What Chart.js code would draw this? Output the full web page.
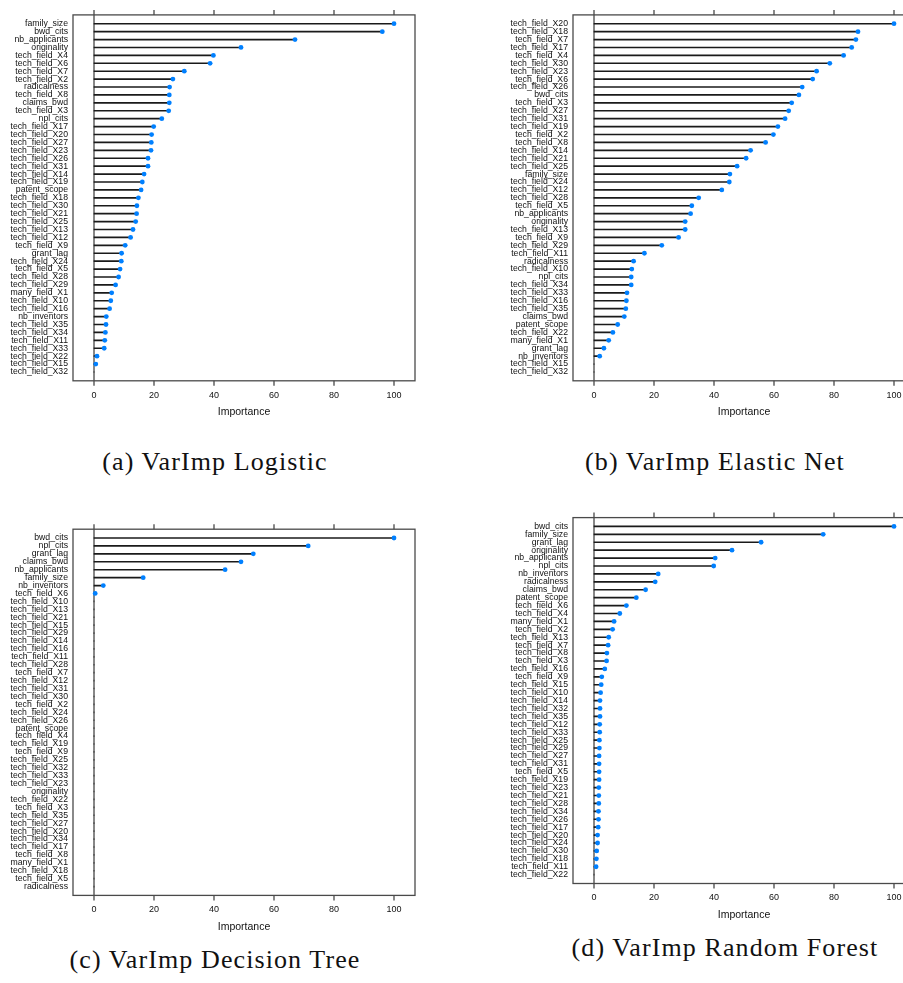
<!DOCTYPE html>
<html>
<head>
<meta charset="utf-8">
<script src="https://cdn.jsdelivr.net/npm/chart.js@4.4.1/dist/chart.umd.min.js"></script>
<style>
  html, body { margin: 0; padding: 0; background: #fff; width: 903px; height: 983px; overflow: hidden; }
  canvas.panel { position: absolute; }
  .cap { position: absolute; font-family: "Liberation Serif", serif; font-size: 26px; color: #111;
         white-space: nowrap; transform: translate(-50%, -50%); letter-spacing: 1.1px; }
</style>
</head>
<body>
<canvas id="panelA" class="panel"></canvas>
<canvas id="panelB" class="panel"></canvas>
<canvas id="panelC" class="panel"></canvas>
<canvas id="panelD" class="panel"></canvas>
<div class="cap" style="left:215px; top:462px;">(a) VarImp Logistic</div>
<div class="cap" style="left:715px; top:462px;">(b) VarImp Elastic Net</div>
<div class="cap" style="left:215px; top:960px;">(c) VarImp Decision Tree</div>
<div class="cap" style="left:725px; top:948px;">(d) VarImp Random Forest</div>
<script>
// Scaled variable importance (0-100) per model, sorted from most to least important.
const logisticVars = [
  'family_size', 'bwd_cits', 'nb_applicants', 'originality', 'tech_field_X4', 'tech_field_X6',
  'tech_field_X7', 'tech_field_X2', 'radicalness', 'tech_field_X8', 'claims_bwd', 'tech_field_X3',
  'npl_cits', 'tech_field_X17', 'tech_field_X20', 'tech_field_X27', 'tech_field_X23', 'tech_field_X26',
  'tech_field_X31', 'tech_field_X14', 'tech_field_X19', 'patent_scope', 'tech_field_X18', 'tech_field_X30',
  'tech_field_X21', 'tech_field_X25', 'tech_field_X13', 'tech_field_X12', 'tech_field_X9', 'grant_lag',
  'tech_field_X24', 'tech_field_X5', 'tech_field_X28', 'tech_field_X29', 'many_field_X1', 'tech_field_X10',
  'tech_field_X16', 'nb_inventors', 'tech_field_X35', 'tech_field_X34', 'tech_field_X11', 'tech_field_X33',
  'tech_field_X22', 'tech_field_X15', 'tech_field_X32'
];
const logisticImp = [
  100, 96.1, 67.0, 49.0, 39.8, 38.7,
  30.1, 26.3, 25.2, 25.1, 25.1, 24.9,
  22.6, 19.9, 19.2, 19.1, 19.0, 18.0,
  18.0, 16.7, 16.1, 15.7, 14.8, 14.3,
  14.2, 13.9, 13.0, 12.2, 10.4, 9.2,
  9.1, 8.7, 8.2, 7.2, 5.9, 5.6,
  5.2, 4.1, 4.0, 3.8, 3.6, 3.4,
  1.0, 0.6, 0
];

const enetVars = [
  'tech_field_X20', 'tech_field_X18', 'tech_field_X7', 'tech_field_X17', 'tech_field_X4', 'tech_field_X30',
  'tech_field_X23', 'tech_field_X6', 'tech_field_X26', 'bwd_cits', 'tech_field_X3', 'tech_field_X27',
  'tech_field_X31', 'tech_field_X19', 'tech_field_X2', 'tech_field_X8', 'tech_field_X14', 'tech_field_X21',
  'tech_field_X25', 'family_size', 'tech_field_X24', 'tech_field_X12', 'tech_field_X28', 'tech_field_X5',
  'nb_applicants', 'originality', 'tech_field_X13', 'tech_field_X9', 'tech_field_X29', 'tech_field_X11',
  'radicalness', 'tech_field_X10', 'npl_cits', 'tech_field_X34', 'tech_field_X33', 'tech_field_X16',
  'tech_field_X35', 'claims_bwd', 'patent_scope', 'tech_field_X22', 'many_field_X1', 'grant_lag',
  'nb_inventors', 'tech_field_X15', 'tech_field_X32'
];
const enetImp = [
  100, 88.0, 87.3, 85.9, 83.2, 78.6,
  74.2, 72.9, 69.4, 68.3, 65.9, 64.9,
  63.7, 61.3, 59.8, 57.2, 52.2, 50.7,
  47.7, 45.3, 45.1, 42.6, 34.9, 32.6,
  32.2, 30.4, 30.4, 28.2, 22.6, 16.8,
  13.2, 12.6, 12.4, 12.4, 11.0, 10.8,
  10.6, 10.1, 7.9, 6.3, 4.9, 3.3,
  1.9, 0, 0
];

const treeVars = [
  'bwd_cits', 'npl_cits', 'grant_lag', 'claims_bwd', 'nb_applicants', 'family_size',
  'nb_inventors', 'tech_field_X6', 'tech_field_X10', 'tech_field_X13', 'tech_field_X21', 'tech_field_X15',
  'tech_field_X29', 'tech_field_X14', 'tech_field_X16', 'tech_field_X11', 'tech_field_X28', 'tech_field_X7',
  'tech_field_X12', 'tech_field_X31', 'tech_field_X30', 'tech_field_X2', 'tech_field_X24', 'tech_field_X26',
  'patent_scope', 'tech_field_X4', 'tech_field_X19', 'tech_field_X9', 'tech_field_X25', 'tech_field_X32',
  'tech_field_X33', 'tech_field_X23', 'originality', 'tech_field_X22', 'tech_field_X3', 'tech_field_X35',
  'tech_field_X27', 'tech_field_X20', 'tech_field_X34', 'tech_field_X17', 'tech_field_X8', 'many_field_X1',
  'tech_field_X18', 'tech_field_X5', 'radicalness'
];
const treeImp = [
  100, 71.4, 53.1, 49.0, 43.7, 16.4,
  3.1, 0.4, 0, 0, 0, 0,
  0, 0, 0, 0, 0, 0,
  0, 0, 0, 0, 0, 0,
  0, 0, 0, 0, 0, 0,
  0, 0, 0, 0, 0, 0,
  0, 0, 0, 0, 0, 0,
  0, 0, 0
];

const forestVars = [
  'bwd_cits', 'family_size', 'grant_lag', 'originality', 'nb_applicants', 'npl_cits',
  'nb_inventors', 'radicalness', 'claims_bwd', 'patent_scope', 'tech_field_X6', 'tech_field_X4',
  'many_field_X1', 'tech_field_X2', 'tech_field_X13', 'tech_field_X7', 'tech_field_X8', 'tech_field_X3',
  'tech_field_X16', 'tech_field_X9', 'tech_field_X15', 'tech_field_X10', 'tech_field_X14', 'tech_field_X32',
  'tech_field_X35', 'tech_field_X12', 'tech_field_X33', 'tech_field_X25', 'tech_field_X29', 'tech_field_X27',
  'tech_field_X31', 'tech_field_X5', 'tech_field_X19', 'tech_field_X23', 'tech_field_X21', 'tech_field_X28',
  'tech_field_X34', 'tech_field_X26', 'tech_field_X17', 'tech_field_X20', 'tech_field_X24', 'tech_field_X30',
  'tech_field_X18', 'tech_field_X11', 'tech_field_X22'
];
const forestImp = [
  100, 76.4, 55.7, 46.0, 40.4, 39.9,
  21.4, 20.4, 17.2, 14.1, 10.8, 8.6,
  6.7, 6.2, 4.9, 4.7, 4.3, 4.2,
  3.6, 2.6, 2.4, 2.2, 2.0, 2.0,
  2.0, 1.9, 1.9, 1.8, 1.8, 1.7,
  1.7, 1.7, 1.7, 1.6, 1.6, 1.6,
  1.5, 1.5, 1.4, 1.2, 1.2, 0.9,
  0.8, 0.7, 0
];

const xTickValues = [0, 20, 40, 60, 80, 100];
const xAxisTitle = 'Importance';

Chart.defaults.font.family = '"Liberation Sans", Arial, sans-serif';
Chart.defaults.color = '#111';

// Panel frame, outer tick marks and the zero reference line.
const framePlugin = {
  id: 'panelFrame',
  beforeDatasetsDraw(chart) {
    const { ctx, chartArea: a, scales: { x } } = chart;
    const x0 = x.getPixelForValue(0);
    ctx.save();
    ctx.strokeStyle = '#111';
    ctx.lineWidth = 1;
    ctx.beginPath();
    ctx.moveTo(x0, a.top);
    ctx.lineTo(x0, a.bottom);
    ctx.stroke();
    ctx.restore();
  },
  afterDraw(chart) {
    const { ctx, chartArea: a, scales: { x } } = chart;
    ctx.save();
    ctx.strokeStyle = '#4a4a4a';
    ctx.lineWidth = 1.3;
    ctx.strokeRect(a.left, a.top, a.right - a.left, a.bottom - a.top);
    ctx.beginPath();
    xTickValues.forEach(v => {
      const px = x.getPixelForValue(v);
      ctx.moveTo(px, a.top);
      ctx.lineTo(px, a.top - 5);
      ctx.moveTo(px, a.bottom);
      ctx.lineTo(px, a.bottom + 5);
    });
    ctx.stroke();
    ctx.restore();
  }
};

function dotPlot(id, vars, imp, box) {
  const canvas = document.getElementById(id);
  const W = 420;
  const bottomH = 37.5;
  const H = Math.round(box.frameBottom - box.top + bottomH);
  canvas.width = W;
  canvas.height = H;
  canvas.style.left = box.left + 'px';
  canvas.style.top = box.top + 'px';
  canvas.style.width = W + 'px';
  canvas.style.height = H + 'px';
  const pts = imp.map((v, i) => ({ x: v, y: i }));
  return new Chart(canvas, {
    type: 'bar',
    data: {
      datasets: [
        {
          type: 'scatter',
          data: pts,
          order: 0,
          showLine: false,
          pointRadius: c => (c.raw && c.raw.x > 0 ? 2.4 : 0),
          pointBackgroundColor: '#0080ff',
          pointBorderWidth: 0,
          pointHoverRadius: 0
        },
        {
          type: 'bar',
          data: pts,
          order: 1,
          backgroundColor: '#1a1a1a',
          borderWidth: 0,
          barThickness: 1
        }
      ]
    },
    options: {
      indexAxis: 'y',
      responsive: false,
      animation: false,
      devicePixelRatio: 1,
      layout: { padding: { top: box.frameTop - box.top, right: W - 415, left: 0, bottom: 0 } },
      plugins: { legend: { display: false }, tooltip: { enabled: false } },
      scales: {
        x: {
          type: 'linear',
          position: 'bottom',
          min: -7,
          max: 107,
          grid: { display: false, drawTicks: false, tickLength: 0 },
          border: { display: false },
          afterBuildTicks: s => { s.ticks = xTickValues.map(v => ({ value: v })); },
          afterFit: s => { s.height = H - (box.frameBottom - box.top); },
          ticks: { padding: 9, maxRotation: 0, font: { size: 9 }, color: '#111' },
          title: { display: true, text: xAxisTitle, padding: 0, font: { size: 10.5 }, color: '#111' }
        },
        y: {
          type: 'linear',
          reverse: true,
          min: -0.6,
          max: vars.length - 0.4,
          grid: { display: false, drawTicks: false, tickLength: 0 },
          border: { display: false },
          afterBuildTicks: s => { s.ticks = vars.map((_, i) => ({ value: i })); },
          afterFit: s => { s.width = 73; },
          ticks: { autoSkip: false, padding: 5, font: { size: 8.7 }, color: '#111', callback: v => vars[v] }
        }
      }
    },
    plugins: [framePlugin]
  });
}

dotPlot('panelA', logisticVars, logisticImp, { left: 0, top: 0, frameTop: 14.9, frameBottom: 380.8 });
dotPlot('panelB', enetVars, enetImp, { left: 500, top: 0, frameTop: 14.9, frameBottom: 380.8 });
dotPlot('panelC', treeVars, treeImp, { left: 0, top: 515, frameTop: 529.2, frameBottom: 895.4 });
dotPlot('panelD', forestVars, forestImp, { left: 500, top: 505, frameTop: 517.6, frameBottom: 883.5 });
</script>
</body>
</html>
